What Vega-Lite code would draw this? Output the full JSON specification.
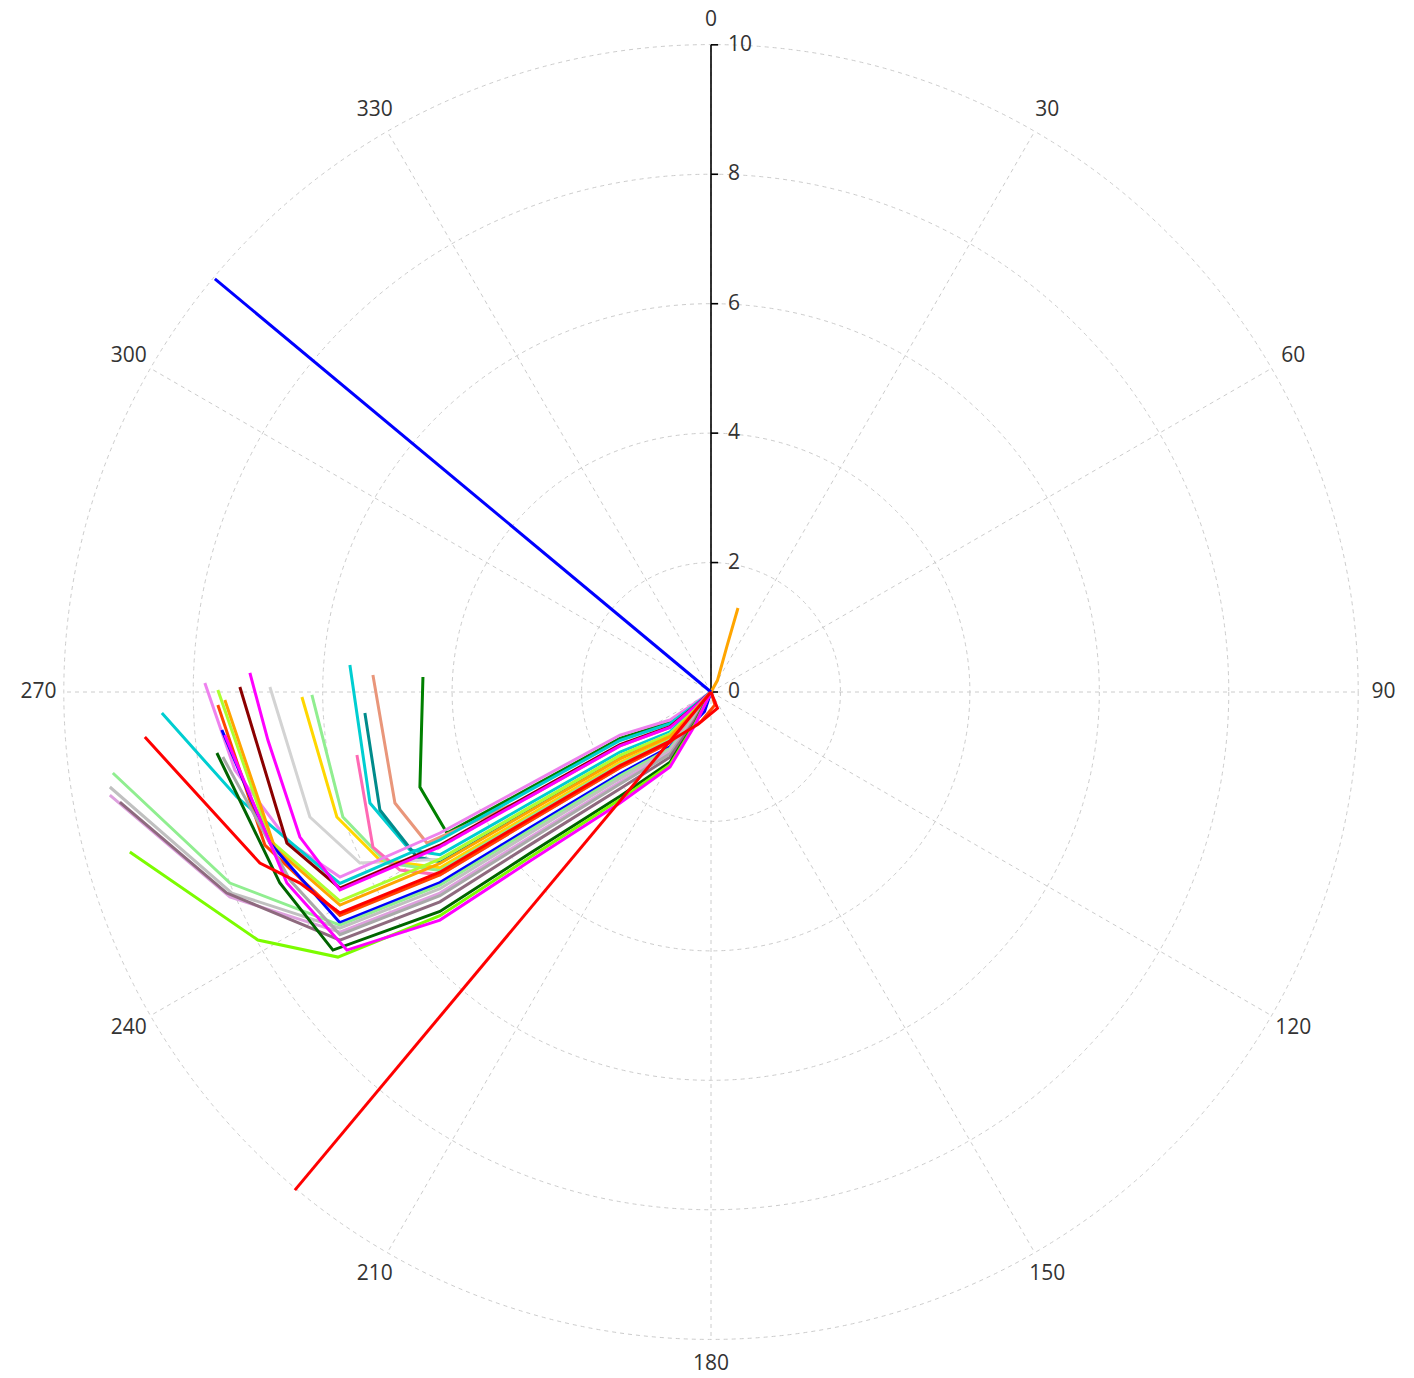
{
  "$schema": "https://vega.github.io/schema/vega-lite/v6.json",
  "width": 1372,
  "height": 1372,
  "autosize": {"type": "none"},
  "padding": {"left": 25, "top": 6, "right": 17, "bottom": 0},
  "background": "white",
  "config": {"view": {"stroke": null}, "font": "Open Sans"},
  "datasets": {
    "rings": [{"r": 2, "cx": 0, "cy": 0}, {"r": 4, "cx": 0, "cy": 0}, {"r": 6, "cx": 0, "cy": 0}, {"r": 8, "cx": 0, "cy": 0}, {"r": 10, "cx": 0, "cy": 0}],
    "rays": [
      {"a": 0, "cx": 0, "cy": 0, "ex": 0, "ey": 10}, {"a": 30, "cx": 0, "cy": 0, "ex": 5, "ey": 8.66}, {"a": 60, "cx": 0, "cy": 0, "ex": 8.66, "ey": 5},
      {"a": 90, "cx": 0, "cy": 0, "ex": 10, "ey": 0}, {"a": 120, "cx": 0, "cy": 0, "ex": 8.66, "ey": -5}, {"a": 150, "cx": 0, "cy": 0, "ex": 5, "ey": -8.66},
      {"a": 180, "cx": 0, "cy": 0, "ex": 0, "ey": -10}, {"a": 210, "cx": 0, "cy": 0, "ex": -5, "ey": -8.66}, {"a": 240, "cx": 0, "cy": 0, "ex": -8.66, "ey": -5},
      {"a": 270, "cx": 0, "cy": 0, "ex": -10, "ey": 0}, {"a": 300, "cx": 0, "cy": 0, "ex": -8.66, "ey": 5}, {"a": 330, "cx": 0, "cy": 0, "ex": -5, "ey": 8.66}
    ],
    "raxis": [{"cx": 0, "r0": 0, "r1": 10}],
    "rticks": [
      {"v": 0, "l": "0", "cx": 0, "tx": 0.11}, {"v": 2, "l": "2", "cx": 0, "tx": 0.11}, {"v": 4, "l": "4", "cx": 0, "tx": 0.11},
      {"v": 6, "l": "6", "cx": 0, "tx": 0.11}, {"v": 8, "l": "8", "cx": 0, "tx": 0.11}, {"v": 10, "l": "10", "cx": 0, "tx": 0.11}
    ],
    "angles": [
      {"l": "0", "ax": 0, "ay": 10.39}, {"l": "30", "ax": 5.195, "ay": 8.998}, {"l": "60", "ax": 8.998, "ay": 5.195},
      {"l": "90", "ax": 10.39, "ay": 0}, {"l": "120", "ax": 8.998, "ay": -5.195}, {"l": "150", "ax": 5.195, "ay": -8.998},
      {"l": "180", "ax": 0, "ay": -10.39}, {"l": "210", "ax": -5.195, "ay": -8.998}, {"l": "240", "ax": -8.998, "ay": -5.195},
      {"l": "270", "ax": -10.39, "ay": 0}, {"l": "300", "ax": -8.998, "ay": 5.195}, {"l": "330", "ax": -5.195, "ay": 8.998}
    ],
    "lines": [
      {"s": "green", "i": 0, "x": -4.451, "y": 0.232}, {"s": "green", "i": 1, "x": -4.498, "y": -1.468}, {"s": "green", "i": 2, "x": -4.08, "y": -2.179}, {"s": "green", "i": 3, "x": -2.797, "y": -1.482}, {"s": "green", "i": 4, "x": -1.406, "y": -0.718}, {"s": "green", "i": 5, "x": -0.634, "y": -0.469}, {"s": "green", "i": 6, "x": -0.247, "y": -0.187}, {"s": "green", "i": 7, "x": 0, "y": 0},

      {"s": "darksalmon", "i": 0, "x": -5.224, "y": 0.263}, {"s": "darksalmon", "i": 1, "x": -4.884, "y": -1.716}, {"s": "darksalmon", "i": 2, "x": -4.389, "y": -2.334}, {"s": "darksalmon", "i": 3, "x": -2.797, "y": -1.612}, {"s": "darksalmon", "i": 4, "x": -1.406, "y": -0.833}, {"s": "darksalmon", "i": 5, "x": -0.634, "y": -0.549}, {"s": "darksalmon", "i": 6, "x": -0.247, "y": -0.224}, {"s": "darksalmon", "i": 7, "x": 0, "y": 0},

      {"s": "darkturquoise", "i": 0, "x": -5.58, "y": 0.417}, {"s": "darkturquoise", "i": 1, "x": -5.27, "y": -1.716}, {"s": "darkturquoise", "i": 2, "x": -4.652, "y": -2.442}, {"s": "darkturquoise", "i": 3, "x": -4.189, "y": -2.515}, {"s": "darkturquoise", "i": 4, "x": -2.797, "y": -1.72}, {"s": "darkturquoise", "i": 5, "x": -1.406, "y": -0.928}, {"s": "darkturquoise", "i": 6, "x": -0.634, "y": -0.615}, {"s": "darkturquoise", "i": 7, "x": -0.247, "y": -0.255}, {"s": "darkturquoise", "i": 8, "x": 0, "y": 0},

      {"s": "teal", "i": 0, "x": -5.348, "y": -0.325}, {"s": "teal", "i": 1, "x": -5.116, "y": -1.824}, {"s": "teal", "i": 2, "x": -4.544, "y": -2.55}, {"s": "teal", "i": 3, "x": -4.189, "y": -2.623}, {"s": "teal", "i": 4, "x": -2.797, "y": -1.815}, {"s": "teal", "i": 5, "x": -1.406, "y": -1.012}, {"s": "teal", "i": 6, "x": -0.634, "y": -0.673}, {"s": "teal", "i": 7, "x": -0.247, "y": -0.282}, {"s": "teal", "i": 8, "x": 0, "y": 0},

      {"s": "lightgray", "i": 0, "x": -6.816, "y": 0.077}, {"s": "lightgray", "i": 1, "x": -6.198, "y": -1.932}, {"s": "lightgray", "i": 2, "x": -5.425, "y": -2.643}, {"s": "lightgray", "i": 3, "x": -4.189, "y": -2.583}, {"s": "lightgray", "i": 4, "x": -2.797, "y": -1.779}, {"s": "lightgray", "i": 5, "x": -1.406, "y": -0.98}, {"s": "lightgray", "i": 6, "x": -0.634, "y": -0.651}, {"s": "lightgray", "i": 7, "x": -0.247, "y": -0.272}, {"s": "lightgray", "i": 8, "x": 0, "y": 0},

      {"s": "gold", "i": 0, "x": -6.321, "y": -0.077}, {"s": "gold", "i": 1, "x": -5.781, "y": -1.932}, {"s": "gold", "i": 2, "x": -5.116, "y": -2.597}, {"s": "gold", "i": 3, "x": -4.189, "y": -2.717}, {"s": "gold", "i": 4, "x": -2.797, "y": -1.898}, {"s": "gold", "i": 5, "x": -1.406, "y": -1.085}, {"s": "gold", "i": 6, "x": -0.634, "y": -0.723}, {"s": "gold", "i": 7, "x": -0.247, "y": -0.306}, {"s": "gold", "i": 8, "x": 0, "y": 0},

      {"s": "lightgreen", "i": 0, "x": -6.167, "y": -0.046}, {"s": "lightgreen", "i": 1, "x": -5.688, "y": -1.932}, {"s": "lightgreen", "i": 2, "x": -5.008, "y": -2.643}, {"s": "lightgreen", "i": 3, "x": -4.189, "y": -2.757}, {"s": "lightgreen", "i": 4, "x": -2.797, "y": -1.934}, {"s": "lightgreen", "i": 5, "x": -1.406, "y": -1.117}, {"s": "lightgreen", "i": 6, "x": -0.634, "y": -0.745}, {"s": "lightgreen", "i": 7, "x": -0.247, "y": -0.316}, {"s": "lightgreen", "i": 8, "x": 0, "y": 0},

      {"s": "hotpink", "i": 0, "x": -5.471, "y": -0.974}, {"s": "hotpink", "i": 1, "x": -5.224, "y": -2.396}, {"s": "hotpink", "i": 2, "x": -4.807, "y": -2.751}, {"s": "hotpink", "i": 3, "x": -4.189, "y": -2.825}, {"s": "hotpink", "i": 4, "x": -2.797, "y": -1.993}, {"s": "hotpink", "i": 5, "x": -1.406, "y": -1.169}, {"s": "hotpink", "i": 6, "x": -0.634, "y": -0.781}, {"s": "hotpink", "i": 7, "x": -0.247, "y": -0.333}, {"s": "hotpink", "i": 8, "x": 0, "y": 0},

      {"s": "orangeshort", "i": 0, "x": 0, "y": 0}, {"s": "orangeshort", "i": 1, "x": 0.1, "y": 0.18}, {"s": "orangeshort", "i": 2, "x": 0.25, "y": 0.72}, {"s": "orangeshort", "i": 3, "x": 0.417, "y": 1.298},

      {"s": "violet", "i": 0, "x": -7.821, "y": 0.139}, {"s": "violet", "i": 1, "x": -7.357, "y": -1.206}, {"s": "violet", "i": 2, "x": -6.507, "y": -2.334}, {"s": "violet", "i": 3, "x": -5.734, "y": -2.859}, {"s": "violet", "i": 4, "x": -4.189, "y": -2.179}, {"s": "violet", "i": 5, "x": -2.797, "y": -1.422}, {"s": "violet", "i": 6, "x": -1.406, "y": -0.665}, {"s": "violet", "i": 7, "x": -0.634, "y": -0.433}, {"s": "violet", "i": 8, "x": -0.247, "y": -0.17}, {"s": "violet", "i": 9, "x": 0, "y": 0},

      {"s": "cyan2", "i": 0, "x": -8.485, "y": -0.325}, {"s": "cyan2", "i": 1, "x": -7.326, "y": -1.623}, {"s": "cyan2", "i": 2, "x": -6.352, "y": -2.442}, {"s": "cyan2", "i": 3, "x": -5.734, "y": -2.958}, {"s": "cyan2", "i": 4, "x": -4.189, "y": -2.287}, {"s": "cyan2", "i": 5, "x": -2.797, "y": -1.517}, {"s": "cyan2", "i": 6, "x": -1.406, "y": -0.749}, {"s": "cyan2", "i": 7, "x": -0.634, "y": -0.491}, {"s": "cyan2", "i": 8, "x": -0.247, "y": -0.197}, {"s": "cyan2", "i": 9, "x": 0, "y": 0},

      {"s": "darkred", "i": 0, "x": -7.28, "y": 0.077}, {"s": "darkred", "i": 1, "x": -6.553, "y": -2.334}, {"s": "darkred", "i": 2, "x": -5.734, "y": -3.032}, {"s": "darkred", "i": 3, "x": -4.189, "y": -2.367}, {"s": "darkred", "i": 4, "x": -2.797, "y": -1.589}, {"s": "darkred", "i": 5, "x": -1.406, "y": -0.812}, {"s": "darkred", "i": 6, "x": -0.634, "y": -0.535}, {"s": "darkred", "i": 7, "x": -0.247, "y": -0.218}, {"s": "darkred", "i": 8, "x": 0, "y": 0},

      {"s": "magenta1", "i": 0, "x": -7.125, "y": 0.294}, {"s": "magenta1", "i": 1, "x": -6.847, "y": -0.742}, {"s": "magenta1", "i": 2, "x": -6.352, "y": -2.241}, {"s": "magenta1", "i": 3, "x": -5.734, "y": -3.057}, {"s": "magenta1", "i": 4, "x": -4.189, "y": -2.394}, {"s": "magenta1", "i": 5, "x": -2.797, "y": -1.612}, {"s": "magenta1", "i": 6, "x": -1.406, "y": -0.833}, {"s": "magenta1", "i": 7, "x": -0.634, "y": -0.549}, {"s": "magenta1", "i": 8, "x": -0.247, "y": -0.224}, {"s": "magenta1", "i": 9, "x": 0, "y": 0},

      {"s": "yellowgreen", "i": 0, "x": -7.62, "y": 0.031}, {"s": "yellowgreen", "i": 1, "x": -6.816, "y": -2.287}, {"s": "yellowgreen", "i": 2, "x": -5.734, "y": -3.23}, {"s": "yellowgreen", "i": 3, "x": -4.189, "y": -2.583}, {"s": "yellowgreen", "i": 4, "x": -2.797, "y": -1.779}, {"s": "yellowgreen", "i": 5, "x": -1.406, "y": -0.98}, {"s": "yellowgreen", "i": 6, "x": -0.634, "y": -0.651}, {"s": "yellowgreen", "i": 7, "x": -0.247, "y": -0.272}, {"s": "yellowgreen", "i": 8, "x": 0, "y": 0},

      {"s": "orange", "i": 0, "x": -7.512, "y": -0.124}, {"s": "orange", "i": 1, "x": -6.739, "y": -2.411}, {"s": "orange", "i": 2, "x": -5.734, "y": -3.292}, {"s": "orange", "i": 3, "x": -4.189, "y": -2.65}, {"s": "orange", "i": 4, "x": -2.797, "y": -1.839}, {"s": "orange", "i": 5, "x": -1.406, "y": -1.033}, {"s": "orange", "i": 6, "x": -0.634, "y": -0.687}, {"s": "orange", "i": 7, "x": -0.247, "y": -0.289}, {"s": "orange", "i": 8, "x": 0, "y": 0},

      {"s": "orangered", "i": 0, "x": -7.62, "y": -0.201}, {"s": "orangered", "i": 1, "x": -6.893, "y": -2.365}, {"s": "orangered", "i": 2, "x": -5.734, "y": -3.452}, {"s": "orangered", "i": 3, "x": -4.189, "y": -2.825}, {"s": "orangered", "i": 4, "x": -2.797, "y": -1.993}, {"s": "orangered", "i": 5, "x": -1.406, "y": -1.169}, {"s": "orangered", "i": 6, "x": -0.634, "y": -0.781}, {"s": "orangered", "i": 7, "x": -0.15, "y": -0.45}, {"s": "orangered", "i": 8, "x": 0.06, "y": -0.2}, {"s": "orangered", "i": 9, "x": 0, "y": 0},

      {"s": "blue", "i": 0, "x": -7.558, "y": -0.587}, {"s": "blue", "i": 1, "x": -6.816, "y": -2.334}, {"s": "blue", "i": 2, "x": -5.734, "y": -3.564}, {"s": "blue", "i": 3, "x": -4.189, "y": -2.946}, {"s": "blue", "i": 4, "x": -2.797, "y": -2.1}, {"s": "blue", "i": 5, "x": -1.406, "y": -1.264}, {"s": "blue", "i": 6, "x": -0.634, "y": -0.847}, {"s": "blue", "i": 7, "x": -0.1, "y": -0.3}, {"s": "blue", "i": 8, "x": 0, "y": 0},

      {"s": "lightgreen2", "i": 0, "x": -9.243, "y": -1.252}, {"s": "lightgreen2", "i": 1, "x": -7.434, "y": -2.952}, {"s": "lightgreen2", "i": 2, "x": -5.734, "y": -3.601}, {"s": "lightgreen2", "i": 3, "x": -4.189, "y": -2.986}, {"s": "lightgreen2", "i": 4, "x": -2.797, "y": -2.136}, {"s": "lightgreen2", "i": 5, "x": -1.406, "y": -1.296}, {"s": "lightgreen2", "i": 6, "x": -0.634, "y": -0.869}, {"s": "lightgreen2", "i": 7, "x": -0.247, "y": -0.374}, {"s": "lightgreen2", "i": 8, "x": 0, "y": 0},

      {"s": "silver", "i": 0, "x": -9.289, "y": -1.468}, {"s": "silver", "i": 1, "x": -7.403, "y": -3.107}, {"s": "silver", "i": 2, "x": -5.734, "y": -3.65}, {"s": "silver", "i": 3, "x": -4.189, "y": -3.04}, {"s": "silver", "i": 4, "x": -2.797, "y": -2.184}, {"s": "silver", "i": 5, "x": -1.406, "y": -1.338}, {"s": "silver", "i": 6, "x": -0.634, "y": -0.898}, {"s": "silver", "i": 7, "x": -0.247, "y": -0.388}, {"s": "silver", "i": 8, "x": 0, "y": 0},

      {"s": "plum", "i": 0, "x": -9.289, "y": -1.592}, {"s": "plum", "i": 1, "x": -7.434, "y": -3.168}, {"s": "plum", "i": 2, "x": -5.734, "y": -3.712}, {"s": "plum", "i": 3, "x": -4.189, "y": -3.107}, {"s": "plum", "i": 4, "x": -2.797, "y": -2.243}, {"s": "plum", "i": 5, "x": -1.406, "y": -1.39}, {"s": "plum", "i": 6, "x": -0.634, "y": -0.934}, {"s": "plum", "i": 7, "x": -0.247, "y": -0.405}, {"s": "plum", "i": 8, "x": 0, "y": 0},

      {"s": "gray2", "i": 0, "x": -7.543, "y": -1.005}, {"s": "gray2", "i": 1, "x": -6.507, "y": -2.906}, {"s": "gray2", "i": 2, "x": -5.734, "y": -3.749}, {"s": "gray2", "i": 3, "x": -4.189, "y": -3.147}, {"s": "gray2", "i": 4, "x": -2.797, "y": -2.279}, {"s": "gray2", "i": 5, "x": -1.406, "y": -1.422}, {"s": "gray2", "i": 6, "x": -0.634, "y": -0.956}, {"s": "gray2", "i": 7, "x": -0.247, "y": -0.415}, {"s": "gray2", "i": 8, "x": 0, "y": 0},

      {"s": "mauve", "i": 0, "x": -9.134, "y": -1.7}, {"s": "mauve", "i": 1, "x": -7.481, "y": -3.107}, {"s": "mauve", "i": 2, "x": -5.734, "y": -3.835}, {"s": "mauve", "i": 3, "x": -4.189, "y": -3.242}, {"s": "mauve", "i": 4, "x": -2.797, "y": -2.362}, {"s": "mauve", "i": 5, "x": -1.406, "y": -1.495}, {"s": "mauve", "i": 6, "x": -0.634, "y": -1.007}, {"s": "mauve", "i": 7, "x": -0.247, "y": -0.439}, {"s": "mauve", "i": 8, "x": 0, "y": 0},

      {"s": "darkgreen", "i": 0, "x": -7.635, "y": -0.943}, {"s": "darkgreen", "i": 1, "x": -6.662, "y": -2.952}, {"s": "darkgreen", "i": 2, "x": -5.842, "y": -3.988}, {"s": "darkgreen", "i": 3, "x": -4.189, "y": -3.39}, {"s": "darkgreen", "i": 4, "x": -2.797, "y": -2.493}, {"s": "darkgreen", "i": 5, "x": -1.406, "y": -1.611}, {"s": "darkgreen", "i": 6, "x": -0.634, "y": -1.086}, {"s": "darkgreen", "i": 7, "x": -0.247, "y": -0.476}, {"s": "darkgreen", "i": 8, "x": 0, "y": 0},

      {"s": "lawngreen", "i": 0, "x": -8.98, "y": -2.473}, {"s": "lawngreen", "i": 1, "x": -7.002, "y": -3.833}, {"s": "lawngreen", "i": 2, "x": -5.765, "y": -4.096}, {"s": "lawngreen", "i": 3, "x": -4.189, "y": -3.457}, {"s": "lawngreen", "i": 4, "x": -2.797, "y": -2.553}, {"s": "lawngreen", "i": 5, "x": -1.406, "y": -1.663}, {"s": "lawngreen", "i": 6, "x": -0.634, "y": -1.123}, {"s": "lawngreen", "i": 7, "x": -0.247, "y": -0.493}, {"s": "lawngreen", "i": 8, "x": 0, "y": 0},

      {"s": "magenta2", "i": 0, "x": -7.512, "y": -0.665}, {"s": "magenta2", "i": 1, "x": -6.553, "y": -2.952}, {"s": "magenta2", "i": 2, "x": -5.626, "y": -3.988}, {"s": "magenta2", "i": 3, "x": -4.189, "y": -3.524}, {"s": "magenta2", "i": 4, "x": -2.797, "y": -2.612}, {"s": "magenta2", "i": 5, "x": -1.406, "y": -1.716}, {"s": "magenta2", "i": 6, "x": -0.634, "y": -1.159}, {"s": "magenta2", "i": 7, "x": -0.247, "y": -0.51}, {"s": "magenta2", "i": 8, "x": 0, "y": 0},

      {"s": "blueray", "i": 0, "x": 0, "y": 0}, {"s": "blueray", "i": 1, "x": -7.666, "y": 6.383},

      {"s": "red", "i": 0, "x": -8.748, "y": -0.696}, {"s": "red", "i": 1, "x": -6.971, "y": -2.643}, {"s": "red", "i": 2, "x": -6.352, "y": -2.952}, {"s": "red", "i": 3, "x": -5.734, "y": -3.415}, {"s": "red", "i": 4, "x": -4.189, "y": -2.784}, {"s": "red", "i": 5, "x": -2.797, "y": -1.958}, {"s": "red", "i": 6, "x": -1.406, "y": -1.138}, {"s": "red", "i": 7, "x": -0.634, "y": -0.76}, {"s": "red", "i": 8, "x": -0.2, "y": -0.5}, {"s": "red", "i": 9, "x": 0.1, "y": -0.25}, {"s": "red", "i": 10, "x": 0, "y": 0},

      {"s": "redray", "i": 0, "x": 0, "y": 0}, {"s": "redray", "i": 1, "x": -6.43, "y": -7.697}
    ]
  },
  "layer": [
    {
      "data": {"name": "rings"},
      "mark": {"type": "point", "shape": "circle", "filled": false, "stroke": "#cccccc", "strokeWidth": 1, "strokeDash": [4, 4], "opacity": 1},
      "encoding": {
        "x": {"field": "cx", "type": "quantitative", "scale": {"domain": [-10.6, 10.6], "nice": false, "zero": false}, "axis": null},
        "y": {"field": "cy", "type": "quantitative", "scale": {"domain": [-10.6, 10.6], "nice": false, "zero": false}, "axis": null},
        "size": {"field": "r", "type": "quantitative", "legend": null, "scale": {"type": "pow", "exponent": 2, "domain": [0, 10], "range": [0, 1675471]}}
      }
    },
    {
      "data": {"name": "rays"},
      "mark": {"type": "rule", "stroke": "#cccccc", "strokeWidth": 1, "strokeDash": [4, 4]},
      "encoding": {
        "x": {"field": "cx", "type": "quantitative", "axis": null},
        "y": {"field": "cy", "type": "quantitative", "axis": null},
        "x2": {"field": "ex"},
        "y2": {"field": "ey"}
      }
    },
    {
      "data": {"name": "raxis"},
      "mark": {"type": "rule", "stroke": "black", "strokeWidth": 1.6},
      "encoding": {
        "x": {"field": "cx", "type": "quantitative", "axis": null},
        "y": {"field": "r0", "type": "quantitative", "axis": null},
        "y2": {"field": "r1"}
      }
    },
    {
      "data": {"name": "rticks"},
      "mark": {"type": "rule", "stroke": "black", "strokeWidth": 1.6},
      "encoding": {
        "x": {"field": "cx", "type": "quantitative", "axis": null},
        "x2": {"field": "tx"},
        "y": {"field": "v", "type": "quantitative", "axis": null}
      }
    },
    {
      "data": {"name": "lines"},
      "mark": {"type": "line", "strokeWidth": 3},
      "encoding": {
        "x": {"field": "x", "type": "quantitative", "axis": null},
        "y": {"field": "y", "type": "quantitative", "axis": null},
        "order": {"field": "i", "type": "quantitative"},
        "color": {
          "field": "s", "type": "nominal", "legend": null,
          "scale": {
            "domain": ["green", "darksalmon", "darkturquoise", "teal", "lightgray", "gold", "lightgreen", "hotpink", "orangeshort", "violet", "cyan2", "darkred", "magenta1", "yellowgreen", "orange", "orangered", "blue", "lightgreen2", "silver", "plum", "gray2", "mauve", "darkgreen", "lawngreen", "magenta2", "blueray", "red", "redray"],
            "range": ["#008000", "#E9967A", "#00CED1", "#008B8B", "#D3D3D3", "#FFD700", "#90EE90", "#FF69B4", "#FFA500", "#EE82EE", "#00CED1", "#8B0000", "#FF00FF", "#ADFF2F", "#FFA500", "#FF4500", "#0000FF", "#90EE90", "#C0C0C0", "#DDA0DD", "#A9A9A9", "#8E6A7E", "#006400", "#7CFC00", "#FF00FF", "#0000FF", "#FF0000", "#FF0000"]
          }
        }
      }
    },
    {
      "data": {"name": "rticks"},
      "mark": {"type": "text", "fontSize": 21, "color": "#333333", "align": "left", "baseline": "middle", "dx": 17, "font": "Open Sans"},
      "encoding": {
        "x": {"field": "cx", "type": "quantitative", "axis": null},
        "y": {"field": "v", "type": "quantitative", "axis": null},
        "text": {"field": "l"}
      }
    },
    {
      "data": {"name": "angles"},
      "mark": {"type": "text", "fontSize": 21, "color": "#333333", "align": "center", "baseline": "middle", "font": "Open Sans"},
      "encoding": {
        "x": {"field": "ax", "type": "quantitative", "axis": null},
        "y": {"field": "ay", "type": "quantitative", "axis": null},
        "text": {"field": "l"}
      }
    }
  ]
}
